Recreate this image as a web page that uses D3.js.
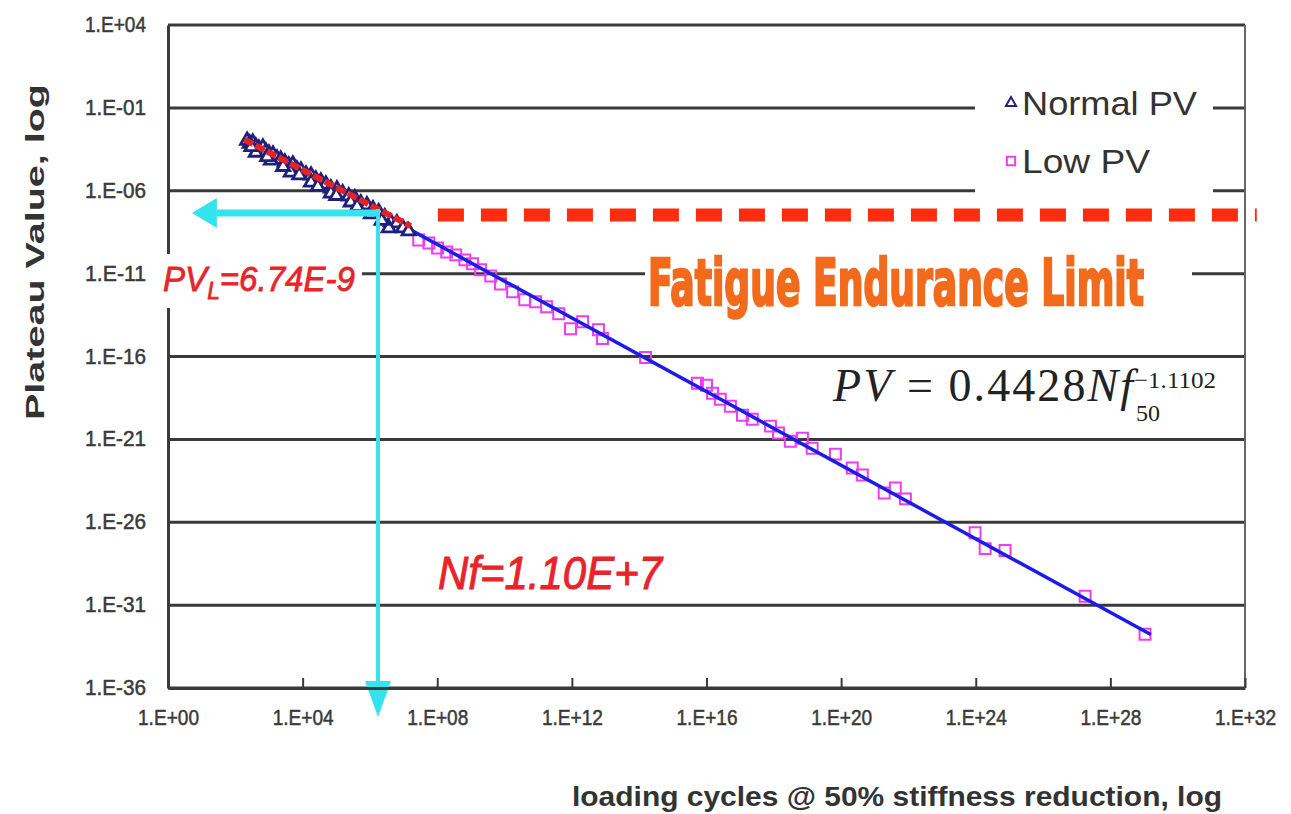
<!DOCTYPE html>
<html>
<head>
<meta charset="utf-8">
<script src="https://cdn.jsdelivr.net/npm/d3@7"></script>
<style>
  body { margin: 0; background: #fff; }
</style>
</head>
<body>
<svg id="chart" width="1291" height="814" font-family="Liberation Sans, Arial, sans-serif"></svg>
<script>
// values are log10 exponents: [log10 Nf50, log10 PV]
const normalPV = [
  [2.35,-2.97],[2.43,-3.15],[2.52,-3.09],[2.61,-3.33],[2.70,-3.45],[2.82,-3.39],[2.91,-3.63],
  [3.00,-3.75],[3.12,-3.81],[3.24,-4.05],[3.35,-4.11],[3.47,-4.29],[3.59,-4.47],[3.71,-4.41],
  [3.83,-4.71],[3.95,-4.77],[4.10,-5.01],[4.25,-5.07],[4.39,-5.31],[4.54,-5.43],[4.69,-5.61],
  [4.84,-5.85],[5.02,-5.91],[5.19,-6.15],[5.37,-6.33],[5.55,-6.45],[5.73,-6.75],[5.91,-6.87],
  [6.09,-7.11],[6.26,-7.29],[6.44,-7.59],[6.62,-7.89],[6.80,-7.95],[6.98,-8.25],[7.15,-8.43],
  [2.61,-3.69],[3.06,-4.17],[3.65,-4.89],[4.25,-5.49],[4.84,-6.15],[5.43,-6.69],[6.03,-7.41],[6.56,-8.25],
  [2.48,-3.35],[2.95,-3.95],[3.42,-4.55],[3.90,-5.05],[4.45,-5.75],[5.00,-6.30],[5.62,-6.95],[6.35,-7.80]
];
const lowPV = [
  [7.45,-8.97],[7.75,-9.15],[8.01,-9.45],[8.28,-9.69],[8.55,-9.87],[8.82,-10.17],[9.05,-10.41],
  [9.29,-10.77],[9.59,-11.14],[9.88,-11.62],[10.24,-12.10],[10.60,-12.58],[10.92,-12.70],
  [11.25,-13.00],[11.61,-13.42],[11.96,-14.32],[12.32,-13.90],[12.79,-14.38],[12.91,-14.92],
  [14.19,-16.06],[15.73,-17.62],[16.00,-17.74],[16.18,-18.22],[16.41,-18.58],[16.71,-19.00],
  [17.07,-19.54],[17.36,-19.78],[17.90,-20.20],[18.14,-20.62],[18.49,-21.11],[18.85,-20.93],
  [19.14,-21.53],[19.83,-21.89],[20.33,-22.73],[20.63,-23.15],[21.28,-24.23],[21.61,-23.93],
  [21.91,-24.59],[23.98,-26.63],[24.28,-27.59],[24.87,-27.71],[27.25,-30.47],[29.03,-32.76]
];
const normalTrend = [[2.26,-2.91],[7.21,-8.13]];
const fitLine = [[2.3,-2.91],[29.2,-32.77]];
const enduranceLine = [[8.02,-7.46],[32.35,-7.46]];
const pvArrow = [[6.24,-7.34],[0.71,-7.34]];
const nfArrow = [[6.24,-7.1],[6.24,-37.75]];

const xTickExp = [0,4,8,12,16,20,24,28,32];
const yTickExp = [4,-1,-6,-11,-16,-21,-26,-31,-36];
const seriesNames = ['Normal PV','Low PV'];

const plotL = 168, plotR = 1245, plotT = 25, plotB = 688;
const svg = d3.select('#chart');
const serif = 'Liberation Serif, Times New Roman, serif';
const narrow = 'Liberation Sans Narrow, DejaVu Sans Condensed, sans-serif';

const x = d3.scaleLog().domain([1, 1e32]).range([plotL, plotR]);
const y = d3.scaleLog().domain([1e-36, 1e4]).range([plotB, plotT]);
const px = e => x(Math.pow(10, e));
const py = e => y(Math.pow(10, e));
const expLabel = d => {
  const e = Math.round(Math.log10(d));
  return '1.E' + (e >= 0 ? '+' : '-') + String(Math.abs(e)).padStart(2, '0');
};

// gridlines (Excel style, dark and thick)
svg.append('g').selectAll('line')
  .data(yTickExp)
  .enter().append('line')
  .attr('x1', plotL).attr('x2', plotR)
  .attr('y1', d => py(d)).attr('y2', d => py(d))
  .attr('stroke', '#3a3a3a').attr('stroke-width', 3);

svg.append('line')
  .attr('x1', plotR).attr('x2', plotR).attr('y1', plotT).attr('y2', plotB)
  .attr('stroke', '#666').attr('stroke-width', 2);

// white boxes hiding gridlines behind legend and big label
svg.append('rect').attr('x', 975).attr('y', 78).attr('width', 238).attr('height', 118).attr('fill', '#fff');
svg.append('rect').attr('x', 645).attr('y', 250).attr('width', 547).attr('height', 66).attr('fill', '#fff');

const lineGen = d3.line().x(d => px(d[0])).y(d => py(d[1]));

// Low PV squares
svg.append('g').selectAll('path')
  .data(lowPV)
  .enter().append('path')
  .attr('d', d3.symbol(d3.symbolSquare, 120))
  .attr('transform', d => `translate(${px(d[0])},${py(d[1])})`)
  .attr('fill', 'none').attr('stroke', '#f03cf0').attr('stroke-width', 2);

// fitted power law
svg.append('path').datum(fitLine)
  .attr('d', lineGen)
  .attr('stroke', '#1c1ce6').attr('stroke-width', 3.5).attr('fill', 'none');

// Normal PV triangles
svg.append('g').selectAll('path')
  .data(normalPV)
  .enter().append('path')
  .attr('d', d3.symbol(d3.symbolTriangle, 75))
  .attr('transform', d => `translate(${px(d[0])},${py(d[1])})`)
  .attr('fill', '#fff').attr('stroke', '#20207a').attr('stroke-width', 2.8);

svg.append('path').datum(normalTrend)
  .attr('d', lineGen)
  .attr('stroke', '#e42424').attr('stroke-width', 6).attr('fill', 'none')
  .attr('stroke-dasharray', '10 3');

// fatigue endurance limit dashes
svg.append('path').datum(enduranceLine)
  .attr('d', lineGen)
  .attr('stroke', '#ff2d10').attr('stroke-width', 13).attr('fill', 'none')
  .attr('stroke-dasharray', '26 17');

// cyan arrows
function arrow(pts, width, headLen, headHalf) {
  const x0 = px(pts[0][0]), y0 = py(pts[0][1]);
  const x1 = px(pts[1][0]), y1 = py(pts[1][1]);
  const len = Math.hypot(x1 - x0, y1 - y0);
  const ux = (x1 - x0) / len, uy = (y1 - y0) / len;
  const bx = x1 - ux * headLen, by = y1 - uy * headLen;
  svg.append('line')
    .attr('x1', x0).attr('y1', y0).attr('x2', bx).attr('y2', by)
    .attr('stroke', '#35e3ee').attr('stroke-width', width);
  svg.append('path')
    .attr('d', `M${x1},${y1}L${bx - uy * headHalf},${by + ux * headHalf}L${bx + uy * headHalf},${by - ux * headHalf}Z`)
    .attr('fill', '#35e3ee');
}
arrow(pvArrow, 7, 25, 15);
arrow(nfArrow, 4, 36, 13);

// axes
const xAxis = svg.append('g')
  .attr('transform', `translate(0,${plotB})`)
  .call(d3.axisBottom(x).tickValues(xTickExp.map(e => Math.pow(10, e)))
    .tickFormat(expLabel).tickSizeInner(-10).tickSizeOuter(0).tickPadding(21));
xAxis.select('.domain').attr('stroke', '#3a3a3a').attr('stroke-width', 3);
xAxis.selectAll('.tick line').attr('stroke', '#3a3a3a').attr('stroke-width', 2);

const yAxis = svg.append('g')
  .attr('transform', `translate(${plotL},0)`)
  .call(d3.axisLeft(y).tickValues(yTickExp.map(e => Math.pow(10, e)))
    .tickFormat(expLabel).tickSize(0).tickPadding(22));
yAxis.select('.domain').attr('stroke', '#3a3a3a').attr('stroke-width', 3);

[xAxis, yAxis].forEach(ax => ax.attr('font-family', null).attr('font-size', null));
svg.selectAll('.tick text')
  .style('font-family', 'Liberation Sans, Arial, sans-serif')
  .style('font-size', '22px').attr('fill', '#3a3a3a')
  .attr('stroke', '#3a3a3a').attr('stroke-width', 0.5)
  .attr('textLength', 61).attr('lengthAdjust', 'spacingAndGlyphs');
yAxis.selectAll('.tick text').attr('dy', '0.3em');

// PV_L label with white box over the cyan line
svg.append('rect').attr('x', 160).attr('y', 254).attr('width', 202).attr('height', 54).attr('fill', '#fff');
const pvl = svg.append('text')
  .attr('x', 163).attr('y', 291)
  .attr('fill', '#e8242b').attr('font-style', 'italic').attr('font-size', 35)
  .attr('stroke', '#e8242b').attr('stroke-width', 0.8)
  .attr('textLength', 192).attr('lengthAdjust', 'spacingAndGlyphs');
pvl.append('tspan').text('PV');
pvl.append('tspan').attr('font-size', 24).attr('dy', 8).text('L');
pvl.append('tspan').attr('dy', -8).text('=6.74E-9');

svg.append('text')
  .attr('x', 438).attr('y', 589)
  .attr('fill', '#e8242b').attr('font-style', 'italic').attr('font-size', 47)
  .attr('stroke', '#e8242b').attr('stroke-width', 1)
  .attr('textLength', 224).attr('lengthAdjust', 'spacingAndGlyphs')
  .text('Nf=1.10E+7');

svg.append('text')
  .attr('x', 648).attr('y', 305)
  .attr('fill', '#f26b1d').attr('stroke', '#f26b1d').attr('stroke-width', 2.5)
  .attr('font-weight', 'bold').attr('font-size', 64)
  .attr('font-family', narrow)
  .attr('textLength', 496).attr('lengthAdjust', 'spacingAndGlyphs')
  .text('Fatigue Endurance Limit');

// equation
const eq = svg.append('text')
  .attr('x', 833).attr('y', 401)
  .attr('font-family', serif)
  .attr('font-size', 46).attr('fill', '#222')
  .attr('textLength', 300).attr('lengthAdjust', 'spacing');
eq.append('tspan').attr('font-style', 'italic').text('PV');
eq.append('tspan').text(' = 0.4428');
eq.append('tspan').attr('font-style', 'italic').text('Nf');
svg.append('text')
  .attr('x', 1136).attr('y', 421)
  .attr('font-family', serif)
  .attr('font-size', 24).attr('fill', '#222').text('50');
svg.append('text')
  .attr('x', 1134).attr('y', 388)
  .attr('font-family', serif)
  .attr('font-size', 24).attr('fill', '#222')
  .attr('textLength', 82).attr('lengthAdjust', 'spacingAndGlyphs')
  .text('\u22121.1102');

// legend
const legend = svg.append('g').selectAll('g')
  .data(seriesNames)
  .enter().append('g')
  .attr('transform', (d, i) => `translate(1011,${103 + i * 58})`);
legend.append('path')
  .attr('d', (d, i) => d3.symbol(i === 0 ? d3.symbolTriangle : d3.symbolSquare, i === 0 ? 45 : 70)())
  .attr('fill', '#fff')
  .attr('stroke', (d, i) => i === 0 ? '#23237a' : '#f03cf0')
  .attr('stroke-width', 2);
legend.append('text')
  .attr('x', 11).attr('y', 12)
  .attr('font-size', 34).attr('fill', '#333')
  .attr('textLength', (d, i) => i === 0 ? 175 : 128).attr('lengthAdjust', 'spacingAndGlyphs')
  .text(d => d);

// axis titles
svg.append('text')
  .attr('transform', 'translate(44,252) rotate(-90)')
  .attr('text-anchor', 'middle')
  .attr('font-weight', 'bold').attr('font-size', 26).attr('fill', '#333')
  .attr('textLength', 336).attr('lengthAdjust', 'spacingAndGlyphs')
  .text('Plateau Value, log');

svg.append('text')
  .attr('x', 572).attr('y', 806)
  .attr('font-weight', 'bold').attr('font-size', 27).attr('fill', '#333')
  .attr('textLength', 650).attr('lengthAdjust', 'spacingAndGlyphs')
  .text('loading cycles @ 50% stiffness reduction, log');
</script>
</body>
</html>
